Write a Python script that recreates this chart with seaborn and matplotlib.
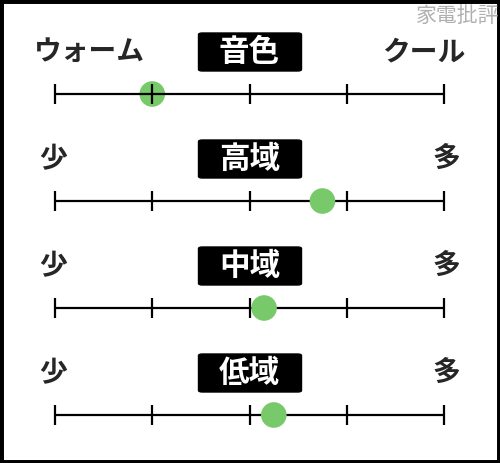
import matplotlib
matplotlib.use("Agg")
import matplotlib.pyplot as plt
from matplotlib.patches import FancyBboxPatch
import pandas as pd
import seaborn as sns

# data
titles = ["音色", "高域", "中域", "低域"]
left_labels = ["ウォーム", "少", "少", "少"]
right_labels = ["クール", "多", "多", "多"]
scores = [1.0, 2.75, 2.15, 2.25]
ticks = [0, 1, 2, 3, 4]

sns.set_theme(style="white")
plt.rcParams['font.family'] = ['Noto Sans CJK JP', 'DejaVu Sans']

fig = plt.figure(figsize=(5, 4.63), dpi=100)
ax = fig.add_axes([0, 0, 1, 1])

# 1 unit = 97.25 px, value 0 at x=55px
unit = 97.25
ax.set_xlim(-55 / unit, (500 - 55) / unit)
ax.set_ylim(463, 0)

row_y = [94, 201, 308, 415]
df = pd.DataFrame({"score": scores, "y": row_y, "title": titles})

for i, y in enumerate(row_y):
    ax.hlines(y, ticks[0], ticks[-1], color="black", lw=1.6, zorder=3)
    ax.vlines(ticks, y - 10, y + 10, color="black", lw=1.6, zorder=3)
    ty = y - 42
    box = FancyBboxPatch((2 - 51 / unit, ty - 19), 103 / unit, 38,
                         boxstyle="round,pad=0,rounding_size=0.04",
                         mutation_aspect=40,
                         fc="black", ec="black", zorder=2)
    ax.add_patch(box)
    ax.text(2, ty, titles[i], color="white", fontsize=22, fontweight="bold",
            ha="center", va="center", zorder=4)
    lx = (89 - 55) / unit if i == 0 else (53 - 55) / unit
    rx = (424 - 55) / unit if i == 0 else (446 - 55) / unit
    ax.text(lx, ty, left_labels[i], fontsize=20, fontweight="bold",
            ha="center", va="center")
    ax.text(rx, ty, right_labels[i], fontsize=20, fontweight="bold",
            ha="center", va="center")

# first dot sits under the line, the others on top
sns.scatterplot(data=df.iloc[:1], x="score", y="y", s=340, color="#77c96a",
                edgecolor="none", ax=ax, zorder=1, legend=False)
sns.scatterplot(data=df.iloc[1:], x="score", y="y", s=340, color="#77c96a",
                edgecolor="none", ax=ax, zorder=5, legend=False)

ax.text(458 / 500, 1 - 16 / 463, "家電批評", transform=ax.transAxes,
        color="#b0b0b0", fontsize=15, ha="center", va="center")

ax.set_xlabel("")
ax.set_ylabel("")
ax.set_xticks([])
ax.set_yticks([])
for s in ax.spines.values():
    s.set_visible(True)
    s.set_color("black")
    s.set_linewidth(5)

fig.savefig("out.png", dpi=100)
